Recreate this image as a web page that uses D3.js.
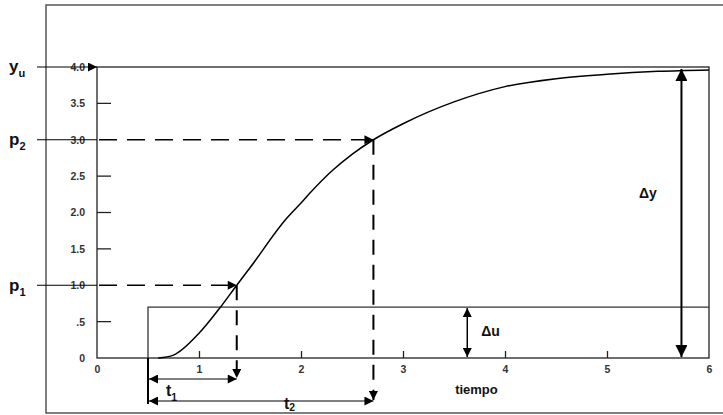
<!DOCTYPE html>
<html><head><meta charset="utf-8">
<script src="https://cdn.jsdelivr.net/npm/d3@7"></script>
<style>
html,body{margin:0;padding:0;background:#fff;}
svg{display:block;font-family:"Liberation Sans",Arial,sans-serif;}
</style></head>
<body>
<svg id="c" width="723" height="415"></svg>
<script>
// ---- data ----
const timeValues = [0.6, 0.75, 1.0, 1.2, 1.37, 1.5, 1.86, 2.0, 2.09, 2.31, 2.5, 2.71, 3.0, 3.5, 4.0, 4.5, 5.0, 5.5, 6.0];
const responseValues = [0, 0.04, 0.34, 0.68, 1.0, 1.24, 1.92, 2.13, 2.27, 2.58, 2.80, 3.0, 3.22, 3.52, 3.73, 3.84, 3.9, 3.94, 3.96];
const stepTime = 0.5, stepLevel = 0.7;
const yuValue = 4.0, p1Value = 1.0, p2Value = 3.0;
const t1Time = 1.37, t2Time = 2.71;
const dyTime = 5.73, duTime = 3.63;
const xTickValues = [0, 1, 2, 3, 4, 5, 6];
const xTickLabels = ["0", "1", "2", "3", "4", "5", "6"];
const yTickValues = [4.0, 3.5, 3.0, 2.5, 2.0, 1.5, 1.0, 0.5, 0];
const yTickLabels = ["4.0", "3.5", "3.0", "2.5", "2.0", "1.5", "1.0", ".5", "0"];
const yInnerTicks = [3.5, 2.5, 2.0, 1.5, 0.5];

const svg = d3.select("#c");
const x = d3.scaleLinear().domain([0, 6]).range([97, 709]);
const y = d3.scaleLinear().domain([0, 4]).range([358, 67]);

const defs = svg.append("defs");
function marker(id, w, h) {
  defs.append("marker").attr("id", id).attr("viewBox", "0 0 10 10")
    .attr("refX", 10).attr("refY", 5).attr("markerWidth", w).attr("markerHeight", h)
    .attr("markerUnits", "userSpaceOnUse").attr("orient", "auto-start-reverse")
    .append("path").attr("d", "M0,0 L10,5 L0,10 Z").attr("fill", "#000");
}
marker("a", 11, 9);
marker("big", 14, 12);

// outer frame
svg.append("path").attr("d", "M723,5 H46 V413 H723").attr("fill", "none").attr("stroke", "#555").attr("stroke-width", 1.5);

// plot box
svg.append("rect").attr("x", x(0)).attr("y", y(4)).attr("width", x(6) - x(0)).attr("height", y(0) - y(4))
  .attr("fill", "none").attr("stroke", "#222").attr("stroke-width", 1.3);

// axes (labels)
const yAxis = svg.append("g").attr("transform", `translate(${x(0)},0)`)
  .call(d3.axisLeft(y).tickValues(yTickValues).tickSize(0).tickPadding(12)
    .tickFormat((d, i) => yTickLabels[i]));
yAxis.select(".domain").remove();
yAxis.selectAll("text").attr("font-size", 10.5).attr("font-weight", "bold").attr("fill", "#333").attr("font-family", "Liberation Sans, Arial, sans-serif");

const xAxis = svg.append("g").attr("transform", `translate(0,${y(0)})`)
  .call(d3.axisBottom(x).tickValues(xTickValues).tickSizeInner(-7).tickSizeOuter(0).tickPadding(8)
    .tickFormat((d, i) => xTickLabels[i]));
xAxis.select(".domain").remove();
xAxis.selectAll("line").attr("stroke", "#222").attr("stroke-width", 1.3).filter(d => d === 0 || d === 6).remove();
xAxis.selectAll("text").attr("font-size", 10.5).attr("font-weight", "bold").attr("fill", "#333").attr("font-family", "Liberation Sans, Arial, sans-serif");

// inner y ticks
svg.selectAll(".yt").data(yInnerTicks).join("line")
  .attr("x1", x(0)).attr("x2", x(0) + 14).attr("y1", d => y(d)).attr("y2", d => y(d))
  .attr("stroke", "#222").attr("stroke-width", 1.3);

// step input
svg.append("path").attr("d", `M${x(stepTime)},${y(0)} V${y(stepLevel)} H${x(6)}`)
  .attr("fill", "none").attr("stroke", "#333").attr("stroke-width", 1.3);
svg.append("line").attr("x1", x(stepTime)).attr("x2", x(stepTime)).attr("y1", y(0)).attr("y2", 404)
  .attr("stroke", "#000").attr("stroke-width", 2);

// response curve
const line = d3.line().x((d, i) => x(timeValues[i])).y(d => y(d)).curve(d3.curveMonotoneX);
svg.append("path").attr("d", line(responseValues)).attr("fill", "none").attr("stroke", "#000").attr("stroke-width", 1.5);

// label lines from left labels
[yuValue, p2Value, p1Value].forEach(v => {
  svg.append("line").attr("x1", 37).attr("x2", x(0)).attr("y1", y(v)).attr("y2", y(v))
    .attr("stroke", "#000").attr("stroke-width", 1.2)
    .attr("marker-end", v === yuValue ? "url(#a)" : null);
});

// dashed guides
[[p2Value, t2Time, 400], [p1Value, t1Time, 378]].forEach(([v, t, yb]) => {
  svg.append("line").attr("x1", x(0) + 2).attr("x2", x(t)).attr("y1", y(v)).attr("y2", y(v))
    .attr("stroke", "#000").attr("stroke-width", 1.3).attr("stroke-dasharray", "18,10").attr("marker-end", "url(#a)");
  svg.append("line").attr("x1", x(t)).attr("x2", x(t)).attr("y1", y(v)).attr("y2", yb)
    .attr("stroke", "#000").attr("stroke-width", 2).attr("stroke-dasharray", "15,10").attr("marker-end", "url(#a)");
});

// t1, t2 arrows
[[t1Time, 379], [t2Time, 401]].forEach(([t, yy]) => {
  svg.append("line").attr("x1", x(stepTime) + 1).attr("x2", x(t)).attr("y1", yy).attr("y2", yy)
    .attr("stroke", "#000").attr("stroke-width", 1.2)
    .attr("marker-start", "url(#a)").attr("marker-end", "url(#a)");
});

// delta y, delta u arrows
svg.append("line").attr("x1", x(dyTime)).attr("x2", x(dyTime)).attr("y1", y(yuValue) + 2).attr("y2", y(0) - 1)
  .attr("stroke", "#000").attr("stroke-width", 2).attr("marker-start", "url(#big)").attr("marker-end", "url(#big)");
svg.append("line").attr("x1", x(duTime)).attr("x2", x(duTime)).attr("y1", y(stepLevel) + 1).attr("y2", y(0) - 1)
  .attr("stroke", "#000").attr("stroke-width", 1.5).attr("marker-start", "url(#a)").attr("marker-end", "url(#a)");

// texts
function sub(tx, ty, main, s, size, dyFrac) {
  const t = svg.append("text").attr("x", tx).attr("y", ty).attr("font-size", size).attr("font-weight", "bold").attr("fill", "#111");
  t.append("tspan").text(main);
  t.append("tspan").attr("font-size", size * 0.65).attr("dy", size * (dyFrac == null ? 0.3 : dyFrac)).text(s);
}
sub(9, 72, "y", "u", 17);
sub(9, 145, "p", "2", 17);
sub(9, 291, "p", "1", 17);
sub(166, 396, "t", "1", 16);
sub(284, 409, "t", "2", 16, 0.1);

svg.append("text").attr("x", x(3.72)).attr("y", 394).attr("text-anchor", "middle")
  .attr("font-size", 13).attr("font-weight", "bold").attr("fill", "#111").text("tiempo");
svg.append("text").attr("x", 639).attr("y", 198)
  .attr("font-size", 14).attr("font-weight", "bold").attr("fill", "#111").text("Δy");
svg.append("text").attr("x", x(duTime) + 14).attr("y", 336)
  .attr("font-size", 14).attr("font-weight", "bold").attr("fill", "#111").text("Δu");
</script>
</body></html>
